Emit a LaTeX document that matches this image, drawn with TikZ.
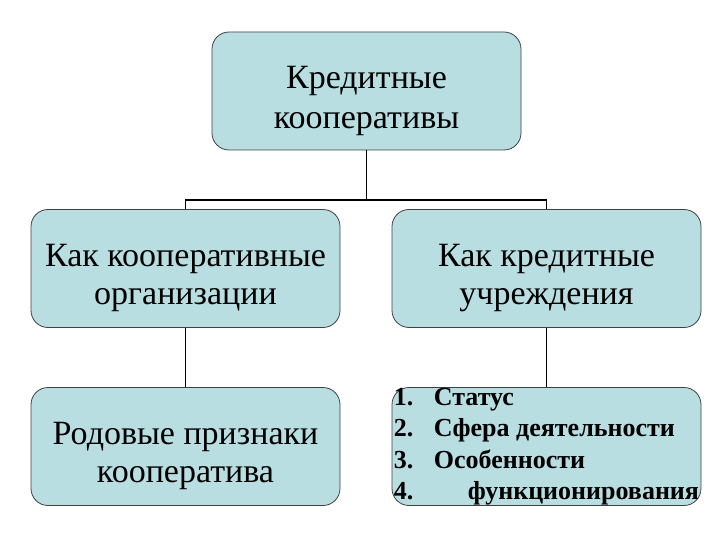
\documentclass[tikz,border=0pt]{standalone}
\usepackage{fontspec}
\setmainfont{Liberation Serif}
\usetikzlibrary{calc}
\definecolor{boxblue}{RGB}{185,222,226}
\tikzset{
  cbox/.style={draw=black!75, line width=.8pt, fill=boxblue, rounded corners=17pt,
    minimum width=309pt, minimum height=118pt, inner sep=0pt, align=center,
    font=\fontsize{34}{38}\selectfont},
  listbox/.style={cbox, align=left, font=\bfseries\fontsize{26}{31.5}\selectfont},
  link/.style={black, line width=1.8pt}
}
\newcommand{\numitem}[2][40pt]{\makebox[#1][l]{#2}}
\newcommand{\lowstrut}[1][42pt]{\rule{0pt}{#1}}

\begin{document}
\begin{tikzpicture}[x=1pt, y=-1pt]
\useasboundingbox (0,0) rectangle (720,540);
% boxes
\node[cbox, font=\fontsize{34}{40}\selectfont] (coop) at (366.5,91) {\lowstrut Кредитные\\кооперативы};
\node[cbox] (asorg) at (185.5,268.5) {\lowstrut Как кооперативные\\организации};
\node[cbox] (ascred) at (546.5,268.5) {\lowstrut Как кредитные\\учреждения};
\node[cbox] (signs) at (185.5,446.5) {\lowstrut Родовые признаки\\кооператива};
\node[listbox] (list) at (546.5,446.5) {\numitem{1.}Статус\\
  \numitem{2.}Сфера деятельности\\
  \numitem{3.}Особенности\\
  \numitem[74pt]{4.}функционирования};
% connectors
\coordinate (split) at (366.5,200);
\draw[link] (coop.south) -- (split);
\draw[link] (asorg.north) |- (split) -| (ascred.north);
\draw[link] (asorg.south) -- (signs.north);
\draw[link] (ascred.south) -- (list.north);
\end{tikzpicture}
\end{document}
